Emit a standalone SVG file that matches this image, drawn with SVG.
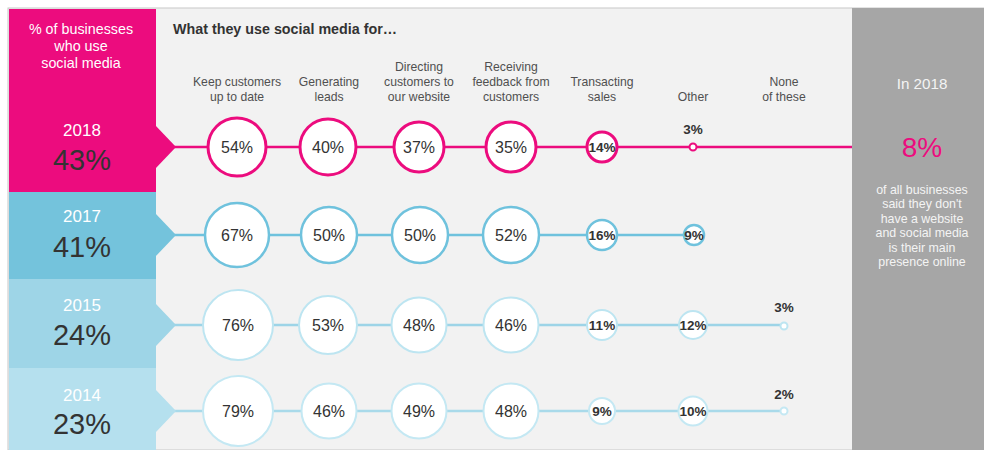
<svg xmlns="http://www.w3.org/2000/svg" width="984" height="450" viewBox="0 0 984 450">
<style>
text{font-family:"Liberation Sans",Arial,sans-serif}
.lbl{font-size:12.2px;fill:#505050;text-anchor:middle}
.yr{font-size:17px;fill:#fff;text-anchor:middle}
.big{font-size:29px;fill:#333;text-anchor:middle}
.pv{font-size:16px;fill:#333;text-anchor:middle}
.ps{font-size:13.5px;font-weight:bold;fill:#333;text-anchor:middle}
.c18{fill:#fff;stroke:#EC0C7E;stroke-width:3}
.c17{fill:#fff;stroke:#6FC2DD;stroke-width:2.5}
.c15{fill:#fff;stroke:#BDE5F1;stroke-width:2}
.c14{fill:#fff;stroke:#C4E8F3;stroke-width:2}
.rt{font-size:12.4px;fill:#f4f4f4;text-anchor:middle}
.lt{font-size:14.3px;fill:#fff;text-anchor:middle}
</style>
<rect x="0" y="0" width="984" height="450" fill="#fff"/>
<rect x="8" y="8" width="976" height="442" fill="#F2F2F2" stroke="#C8C8C8" stroke-width="1"/>
<g id="header">
<text x="173" y="34" font-size="14.3" font-weight="bold" fill="#333">What they use social media for…</text>
<text class="lbl" x="237" y="86">Keep customers</text><text class="lbl" x="237" y="101">up to date</text>
<text class="lbl" x="329" y="86">Generating</text><text class="lbl" x="329" y="101">leads</text>
<text class="lbl" x="419" y="71">Directing</text><text class="lbl" x="419" y="86">customers to</text><text class="lbl" x="419" y="101">our website</text>
<text class="lbl" x="511" y="71">Receiving</text><text class="lbl" x="511" y="86">feedback from</text><text class="lbl" x="511" y="101">customers</text>
<text class="lbl" x="602" y="86">Transacting</text><text class="lbl" x="602" y="101">sales</text>
<text class="lbl" x="693" y="101">Other</text>
<text class="lbl" x="784" y="86">None</text><text class="lbl" x="784" y="101">of these</text>
</g>
<g id="connectors">
<line x1="170" y1="147" x2="852" y2="147" stroke="#EC0C7E" stroke-width="2.5"/>
<line x1="170" y1="235" x2="693" y2="235" stroke="#6FC2DD" stroke-width="2.5"/>
<line x1="170" y1="325" x2="784" y2="325" stroke="#9DD4E7" stroke-width="2.5"/>
<line x1="170" y1="411" x2="784" y2="411" stroke="#A9DAEA" stroke-width="2.5"/>
</g>
<g id="row2018">
<rect x="9" y="9" width="147" height="183" fill="#EC0C7E"/>
<polygon points="155,125 176,147 155,169" fill="#EC0C7E"/>
<text class="lt" x="81" y="34">% of businesses</text>
<text class="lt" x="81" y="51">who use</text>
<text class="lt" x="81" y="68">social media</text>
<text class="yr" x="82" y="136">2018</text>
<text class="big" x="82" y="170">43%</text>
<circle class="c18" cx="237" cy="147" r="29"/><text class="pv" x="237" y="153">54%</text>
<circle class="c18" cx="328" cy="147" r="28"/><text class="pv" x="328" y="153">40%</text>
<circle class="c18" cx="419" cy="147" r="25"/><text class="pv" x="419" y="153">37%</text>
<circle class="c18" cx="511" cy="147" r="25"/><text class="pv" x="511" y="153">35%</text>
<circle class="c18" cx="602" cy="147" r="15"/><text class="ps" x="602" y="152">14%</text>
<circle cx="693" cy="147" r="3.5" fill="#fff" stroke="#EC0C7E" stroke-width="2"/><text class="ps" x="693" y="134">3%</text>
</g>
<g id="row2017">
<rect x="9" y="192" width="147" height="87" fill="#74C3DC"/>
<polygon points="155,213 176,235 155,257" fill="#74C3DC"/>
<text class="yr" x="82" y="222">2017</text>
<text class="big" x="82" y="257">41%</text>
<circle class="c17" cx="237" cy="235" r="32"/><text class="pv" x="237" y="241">67%</text>
<circle class="c17" cx="329" cy="235" r="28"/><text class="pv" x="329" y="241">50%</text>
<circle class="c17" cx="420" cy="235" r="28"/><text class="pv" x="420" y="241">50%</text>
<circle class="c17" cx="511" cy="235" r="28"/><text class="pv" x="511" y="241">52%</text>
<circle class="c17" cx="602" cy="235" r="15"/><text class="ps" x="602" y="240">16%</text>
<circle class="c17" cx="694" cy="235" r="10"/><text class="ps" x="694" y="240">9%</text>
</g>
<g id="row2015">
<rect x="9" y="279" width="147" height="89" fill="#9ED5E7"/>
<polygon points="155,303 176,325 155,347" fill="#9ED5E7"/>
<text class="yr" x="82" y="311">2015</text>
<text class="big" x="82" y="345">24%</text>
<circle class="c15" cx="238" cy="325" r="35"/><text class="pv" x="238" y="331">76%</text>
<circle class="c15" cx="328" cy="325" r="29"/><text class="pv" x="328" y="331">53%</text>
<circle class="c15" cx="419" cy="325" r="27.5"/><text class="pv" x="419" y="331">48%</text>
<circle class="c15" cx="511" cy="325" r="27.5"/><text class="pv" x="511" y="331">46%</text>
<circle class="c15" cx="602" cy="325" r="15"/><text class="ps" x="602" y="330">11%</text>
<circle class="c15" cx="693" cy="325" r="14"/><text class="ps" x="693" y="330">12%</text>
<circle cx="784" cy="326" r="3.5" fill="#fff" stroke="#BDE5F1" stroke-width="2"/><text class="ps" x="784" y="312">3%</text>
</g>
<g id="row2014">
<rect x="9" y="368" width="147" height="82" fill="#B5E0EE"/>
<polygon points="155,389 176,411 155,433" fill="#B5E0EE"/>
<text class="yr" x="82" y="401">2014</text>
<text class="big" x="82" y="434">23%</text>
<circle class="c14" cx="238" cy="411" r="35"/><text class="pv" x="238" y="417">79%</text>
<circle class="c14" cx="329" cy="411" r="27.5"/><text class="pv" x="329" y="417">46%</text>
<circle class="c14" cx="419" cy="411" r="27.5"/><text class="pv" x="419" y="417">49%</text>
<circle class="c14" cx="511" cy="411" r="27.5"/><text class="pv" x="511" y="417">48%</text>
<circle class="c14" cx="602" cy="411" r="13"/><text class="ps" x="602" y="416">9%</text>
<circle class="c14" cx="693" cy="411" r="14.5"/><text class="ps" x="693" y="416">10%</text>
<circle cx="784" cy="411" r="3.5" fill="#fff" stroke="#C4E8F3" stroke-width="2"/><text class="ps" x="784" y="399">2%</text>
</g>
<g id="sidepanel">
<rect x="852" y="8" width="132" height="442" fill="#A6A6A6"/>
<text x="922" y="89" font-size="15.2" fill="#f4f4f4" text-anchor="middle">In 2018</text>
<text x="922" y="157" font-size="28" fill="#EC0C7E" text-anchor="middle">8%</text>
<text class="rt" x="922" y="193.5">of all businesses</text>
<text class="rt" x="922" y="208">said they don't</text>
<text class="rt" x="922" y="222.5">have a website</text>
<text class="rt" x="922" y="237">and social media</text>
<text class="rt" x="922" y="251.5">is their main</text>
<text class="rt" x="922" y="266">presence online</text>
</g>
</svg>
